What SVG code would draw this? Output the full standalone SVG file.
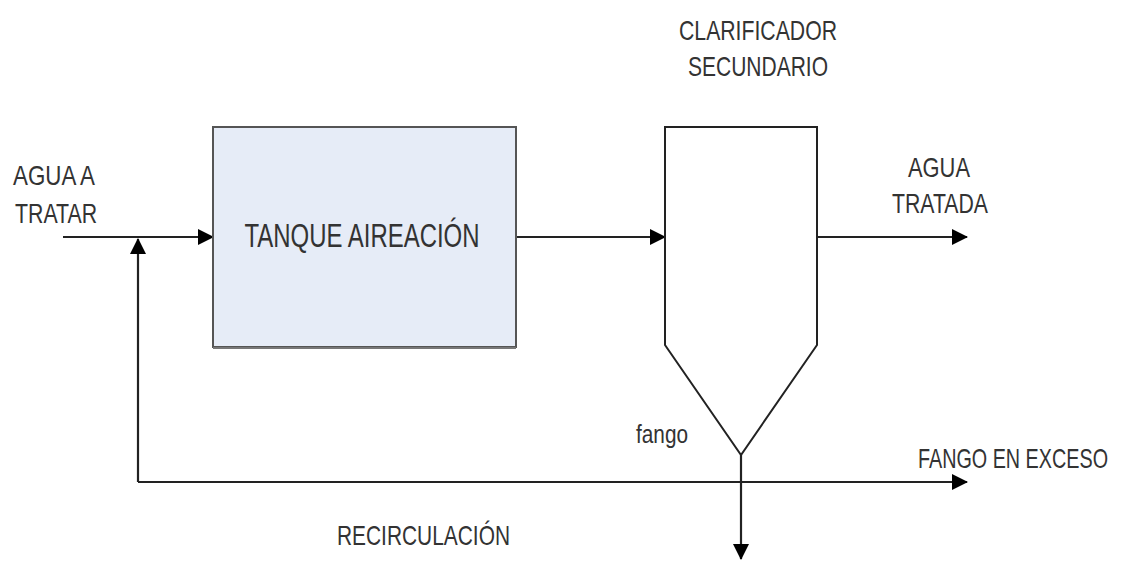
<svg xmlns="http://www.w3.org/2000/svg" width="1134" height="561" viewBox="0 0 1134 561">
<style>
.t{font-family:"Liberation Sans",Arial,sans-serif;fill:#333;}
.ln{stroke:#222;stroke-width:2.2;fill:none;}
</style>
<defs>
<marker id="ah" markerWidth="16" markerHeight="16" refX="15" refY="8" orient="auto" markerUnits="userSpaceOnUse">
<path d="M0,0 L16,8 L0,16 Z" fill="#000"/>
</marker>
</defs>
<rect width="1134" height="561" fill="#fff"/>
<g id="connectors">
<line class="ln" x1="63" y1="237" x2="213" y2="237" marker-end="url(#ah)"/>
<line class="ln" x1="138" y1="482" x2="138" y2="239" marker-end="url(#ah)"/>
<line class="ln" x1="138" y1="482" x2="967" y2="482" marker-end="url(#ah)"/>
<line class="ln" x1="516" y1="237" x2="665" y2="237" marker-end="url(#ah)"/>
<line class="ln" x1="817" y1="237" x2="967" y2="237" marker-end="url(#ah)"/>
<line class="ln" x1="741" y1="455" x2="741" y2="559" marker-end="url(#ah)"/>
</g>
<g id="tanque">
<rect x="213" y="127" width="303" height="220" fill="#e6ecf7" stroke="#555" stroke-width="2"/>
<line x1="213" y1="348" x2="516" y2="348" stroke="#777" stroke-width="2"/>
<text class="t" x="362" y="247" font-size="33" text-anchor="middle" textLength="235" lengthAdjust="spacingAndGlyphs">TANQUE AIREACIÓN</text>
</g>
<g id="clarificador">
<path d="M665,345 L665,127 L817,127 L817,345 L741,455 Z" fill="#fff" stroke="#222" stroke-width="2" stroke-linejoin="miter"/>
<text class="t" x="758" y="40" font-size="28" text-anchor="middle" textLength="158" lengthAdjust="spacingAndGlyphs">CLARIFICADOR</text>
<text class="t" x="758" y="76" font-size="28" text-anchor="middle" textLength="140" lengthAdjust="spacingAndGlyphs">SECUNDARIO</text>
</g>
<g id="labels">
<text class="t" x="13" y="185" font-size="28" textLength="82" lengthAdjust="spacingAndGlyphs">AGUA A</text>
<text class="t" x="15" y="223" font-size="28" textLength="82" lengthAdjust="spacingAndGlyphs">TRATAR</text>
<text class="t" x="939" y="177" font-size="28" text-anchor="middle" textLength="62" lengthAdjust="spacingAndGlyphs">AGUA</text>
<text class="t" x="940" y="213" font-size="28" text-anchor="middle" textLength="96" lengthAdjust="spacingAndGlyphs">TRATADA</text>
<text class="t" x="636" y="443" font-size="25" textLength="52" lengthAdjust="spacingAndGlyphs">fango</text>
<text class="t" x="918" y="468" font-size="28" textLength="190" lengthAdjust="spacingAndGlyphs">FANGO EN EXCESO</text>
<text class="t" x="337" y="545" font-size="28" textLength="173" lengthAdjust="spacingAndGlyphs">RECIRCULACIÓN</text>
</g>
</svg>
